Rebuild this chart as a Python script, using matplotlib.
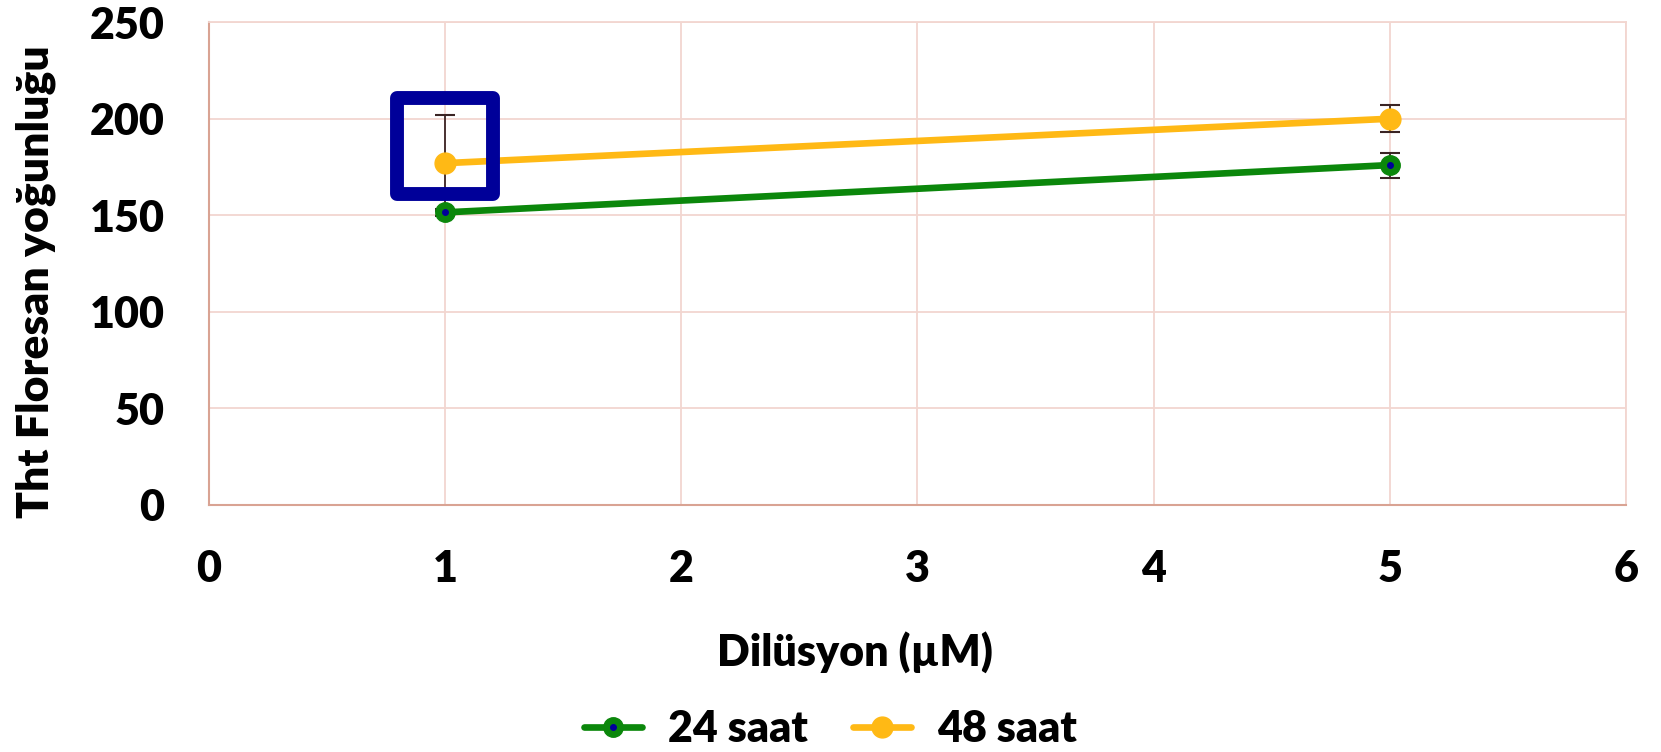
import matplotlib.pyplot as plt
from matplotlib.markers import MarkerStyle

# data
doz = [1, 5]
saat24 = [151.5, 176]
saat24_err = [2, 6.5]
saat48 = [177, 200]
saat48_err = [25, 7]
labels = ['24 saat', '48 saat']

green = '#0B870B'
gold = '#FFB915'
navy = '#000099'

plt.rcParams['font.family'] = ['Lato', 'DejaVu Sans']
plt.rcParams['font.weight'] = 'heavy'

fig = plt.figure(figsize=(16.61, 7.52), dpi=100)
ax = fig.add_axes([0.1258, 0.3285, 0.853, 0.642])

ax.errorbar(doz, saat24, yerr=saat24_err, fmt='none', ecolor='#3a2424', elinewidth=1.3, capsize=7, capthick=1.5, zorder=2)
ax.errorbar(doz, saat48, yerr=saat48_err, fmt='none', ecolor='#3a2424', elinewidth=1.3, capsize=7, capthick=1.5, zorder=2)
l24, = ax.plot(doz, saat24, color=green, lw=4.8, marker='o', ms=14, solid_capstyle='round', zorder=3)
d24, = ax.plot(doz, saat24, ls='none', marker='o', ms=4, color=navy, zorder=4)
l48, = ax.plot(doz, saat48, color=gold, lw=4.8, marker='o', ms=15, solid_capstyle='round', zorder=3)

# highlight box around the first 48 saat point
ax.plot(doz[0], saat48[0] + 9, ls='none', marker=MarkerStyle('s', joinstyle='round'), ms=69,
        mfc='none', mec=navy, mew=10, zorder=5, clip_on=False)

ax.set_xlim(0, 6)
ax.set_ylim(0, 250)
ax.set_xticks(range(0, 7))
ax.set_yticks(range(0, 251, 50))
ax.grid(True, color='#F2D6D0', lw=1.3)
ax.set_axisbelow(True)
for s in ['top', 'right']:
    ax.spines[s].set_color('#F2D6D0')
    ax.spines[s].set_linewidth(1.3)
for s in ['left', 'bottom']:
    ax.spines[s].set_color('#D9A393')
    ax.spines[s].set_linewidth(1.5)
ax.tick_params(length=0, labelsize=31)
ax.tick_params(axis='x', pad=32)
ax.tick_params(axis='y', pad=32)

ax.set_xlabel('Dilüsyon (µM)', fontsize=31, fontweight='heavy', labelpad=30)
ax.set_ylabel('Tht Floresan yoğunluğu', fontsize=32, fontweight='heavy', labelpad=24)
ax.xaxis.label.set_x(0.456)
ax.yaxis.label.set_y(0.463)

fig.legend([(l24, d24), l48], labels, loc='center', bbox_to_anchor=(0.5, 0.031), ncol=2, frameon=False,
           fontsize=31, handlelength=1.35, columnspacing=1.05, handletextpad=0.6)

fig.savefig('out.png', dpi=100)
